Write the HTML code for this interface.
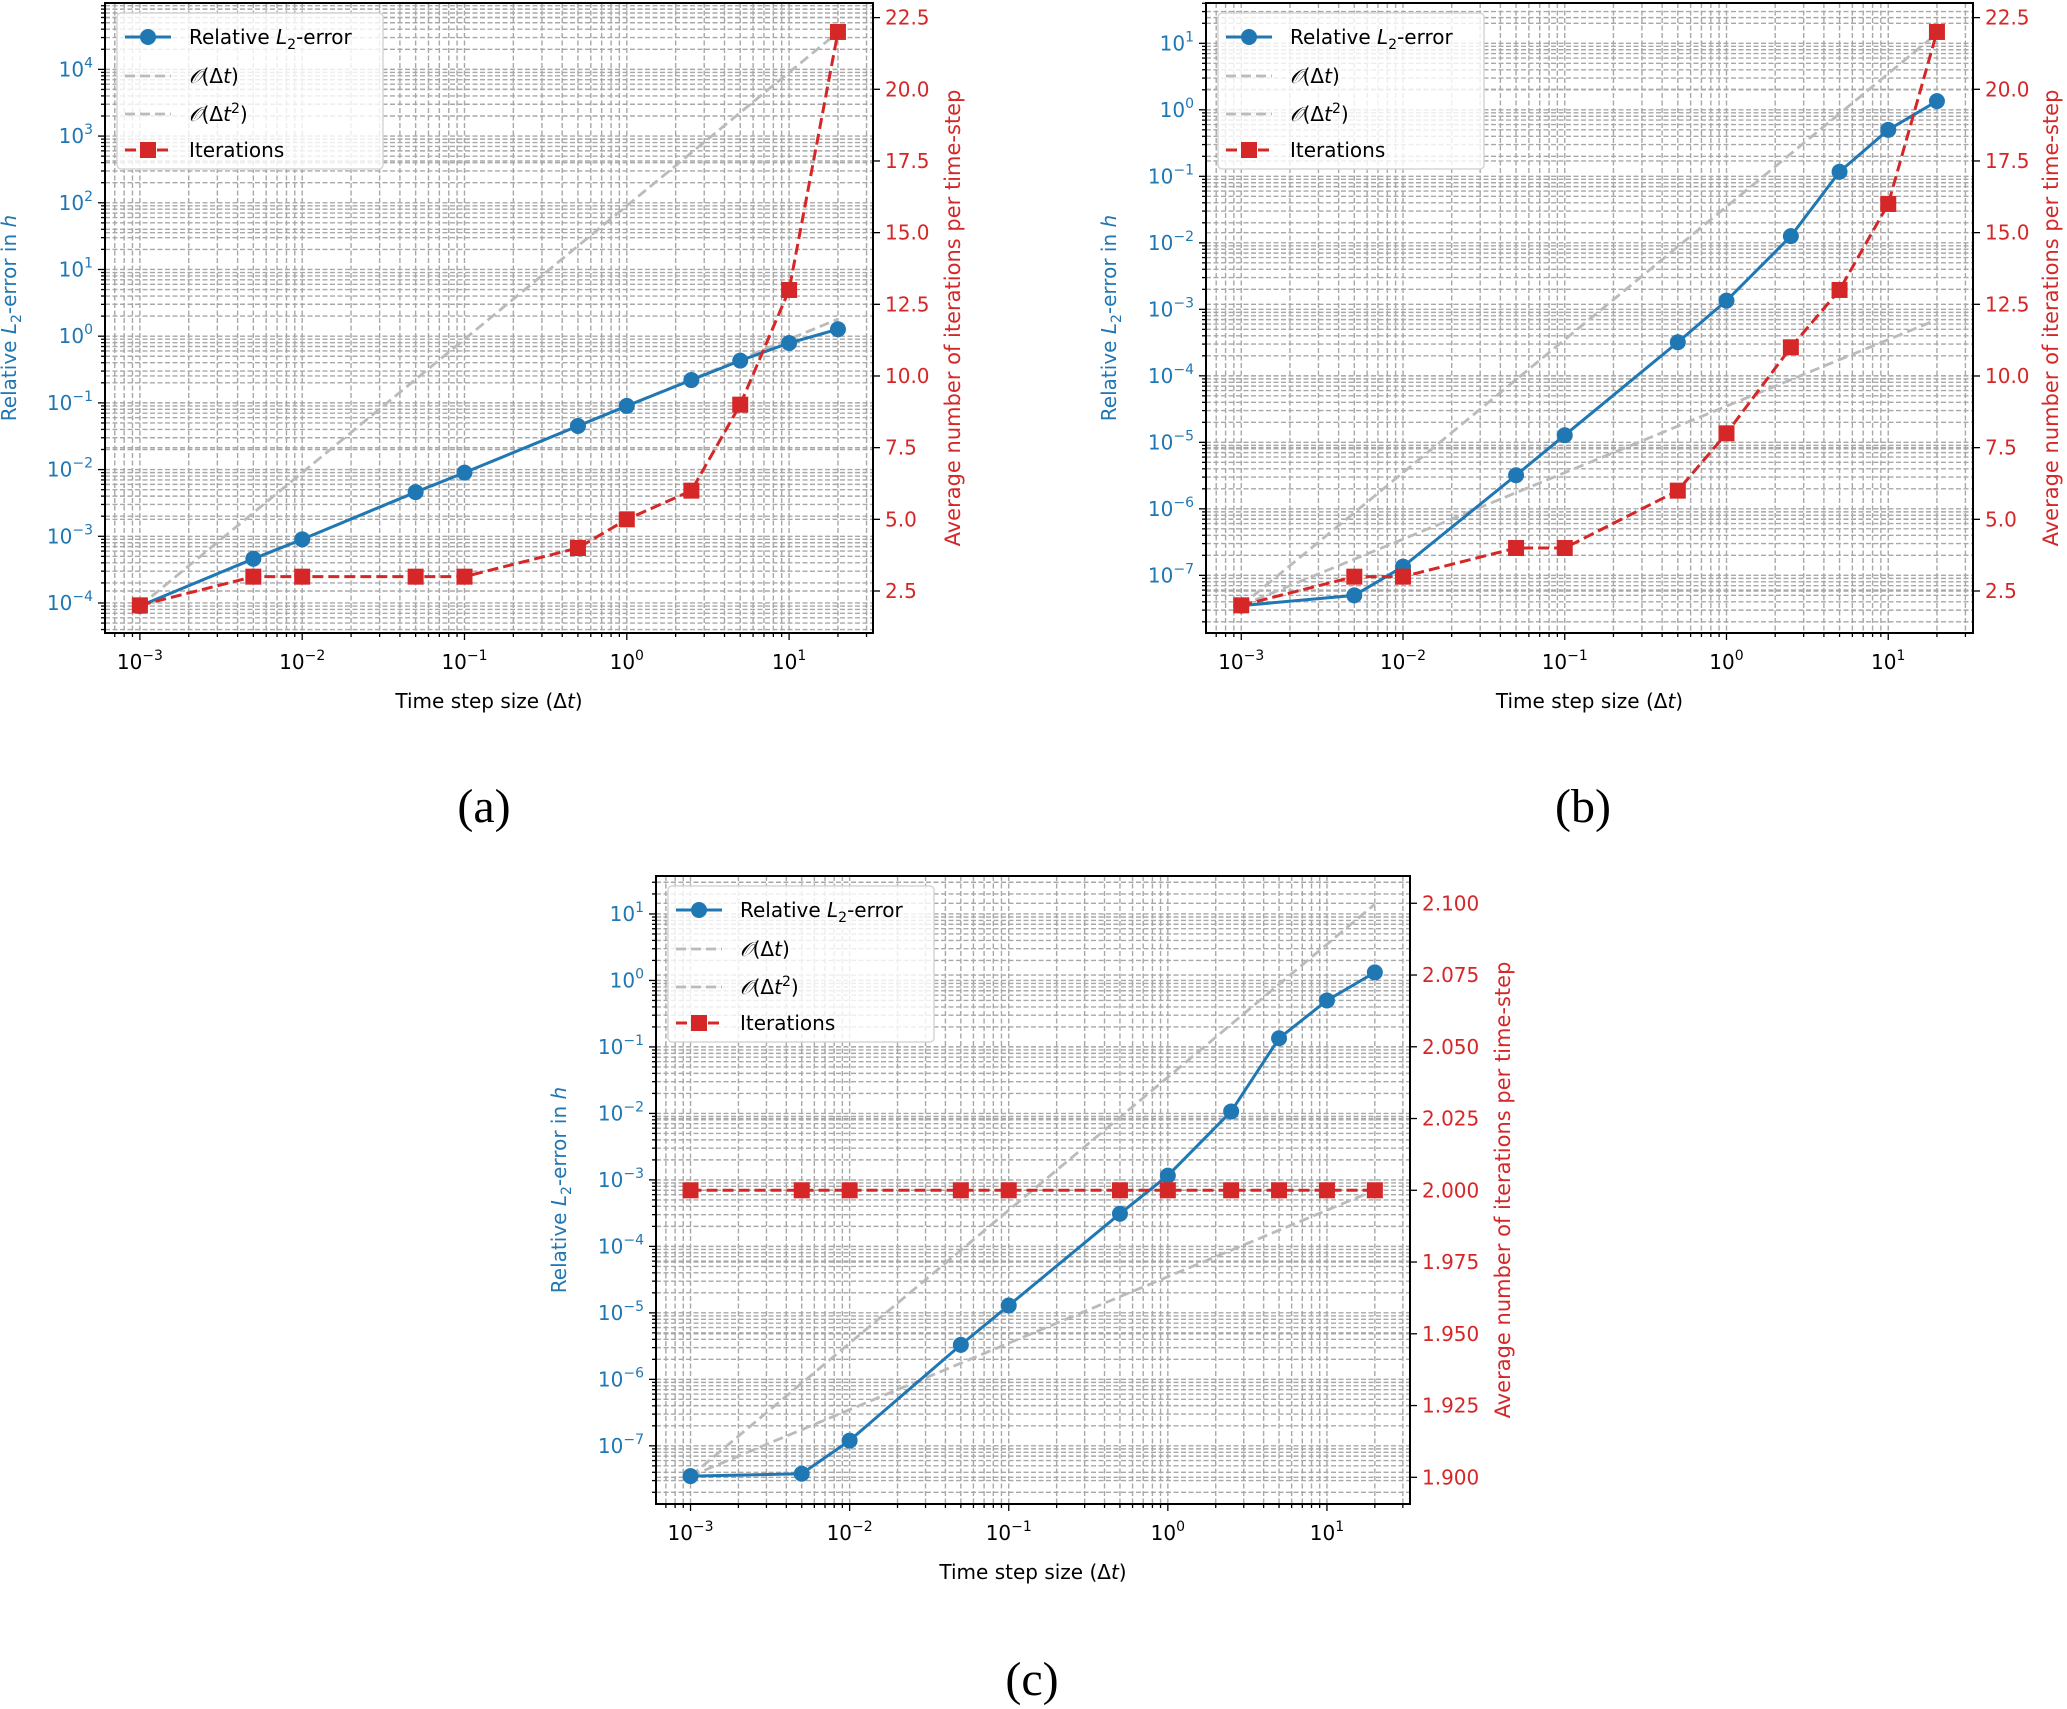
<!DOCTYPE html>
<html><head><meta charset="utf-8">
<style>
html,body{margin:0;padding:0;background:#fff;}
svg{display:block;font-family:"DejaVu Sans","Liberation Sans",sans-serif;}
</style></head>
<body>
<svg id="fig" width="2067" height="1709" viewBox="0 0 2067 1709" xmlns="http://www.w3.org/2000/svg"></svg>
<script>
const timeSteps = [0.001,0.005,0.01,0.05,0.1,0.5,1,2.5,5,10,20];
const errorA = [9e-5,4.6e-4,9e-4,4.6e-3,9e-3,0.045,0.09,0.22,0.43,0.79,1.27];
const iterA = [2,3,3,3,3,4,5,6,9,13,22];
const errorB = [3.5e-8,5e-8,1.35e-7,3.2e-6,1.28e-5,3.2e-4,1.35e-3,1.26e-2,0.117,0.5,1.35];
const iterB = [2,3,3,4,4,6,8,11,13,16,22];
const errorC = [3.5e-8,3.8e-8,1.2e-7,3.3e-6,1.29e-5,3.1e-4,1.16e-3,1.07e-2,0.135,0.5,1.32];
const iterC = [2,2,2,2,2,2,2,2,2,2,2];
const xTickExps = [-3,-2,-1,0,1];
const rightTicksAB = [2.5,5.0,7.5,10.0,12.5,15.0,17.5,20.0,22.5];
const rightTicksC = [1.900,1.925,1.950,1.975,2.000,2.025,2.050,2.075,2.100];
const leftTickExpsA = [-4,-3,-2,-1,0,1,2,3,4];
const leftTickExpsBC = [-7,-6,-5,-4,-3,-2,-1,0,1];

const NS="http://www.w3.org/2000/svg";
const svg=document.getElementById('fig');
const BLUE="#1f77b4", RED="#d62728";
function mk(tag,attrs,parent){const e=document.createElementNS(NS,tag);for(const k in attrs)e.setAttribute(k,attrs[k]);(parent||svg).appendChild(e);return e;}

function powLabel(g,x,y,exp,anchor,color){
  const t=mk('text',{x:x,y:y,'text-anchor':anchor,fill:color,'font-size':20},g);
  
  
  t.appendChild(document.createTextNode('10'));
  const s=mk('tspan',{dy:-9,'font-size':14},t);
  s.textContent=(exp<0?'\u2212':'')+Math.abs(exp);
  return t;
}

function panel(cfg){
  const g=mk('g',{});
  
  
  const L=cfg.L,R=cfg.R,T=cfg.T,B=cfg.B;
  const sx=v=>L+(Math.log10(v)-cfg.x0)/(cfg.x1-cfg.x0)*(R-L);
  const sy=v=>B-(Math.log10(v)-cfg.y0)/(cfg.y1-cfg.y0)*(B-T);
  const sr=v=>B-(v-cfg.r0)/(cfg.r1-cfg.r0)*(B-T);
  const clip='clip-'+cfg.name;
  const cp=mk('clipPath',{id:clip},g);mk('rect',{x:L,y:T,width:R-L,height:B-T},cp);
  const grid=mk('g',{'clip-path':'url(#'+clip+')',stroke:'#a8a8a8','stroke-width':1.4,'stroke-dasharray':'5,2.5'},g);
  
  
  for(let e=-4;e<=2;e++)for(let m=1;m<10;m++){const v=m*Math.pow(10,e);const X=sx(v);if(X<L||X>R)continue;mk('line',{x1:X,x2:X,y1:T,y2:B},grid);
    mk('line',{x1:X,x2:X,y1:B,y2:B+(m==1?7:4),stroke:'#000','stroke-width':1.3},g);}
  for(let e=-9;e<=6;e++)for(let m=1;m<10;m++){const v=m*Math.pow(10,e);const Y=sy(v);if(Y<T||Y>B)continue;mk('line',{x1:L,x2:R,y1:Y,y2:Y},grid);
    mk('line',{x1:L,x2:L-(m==1?7:4),y1:Y,y2:Y,stroke:'#000','stroke-width':1.3},g);}
  cfg.rTicks.forEach(v=>{const Y=sr(v);mk('line',{x1:L,x2:R,y1:Y,y2:Y},grid);mk('line',{x1:R,x2:R+7,y1:Y,y2:Y,stroke:'#000','stroke-width':1.3},g);
    const t=mk('text',{x:R+12,y:Y+7,fill:RED,'font-size':20},g);t.textContent=cfg.rFmt(v);
    
    });
  xTickExps.forEach(e=>powLabel(g,sx(Math.pow(10,e)),B+36,e,'middle','#000'));
  cfg.yExps.forEach(e=>powLabel(g,L-12,sy(Math.pow(10,e))+7,e,'end',BLUE));
  const c1=cfg.err[0]/timeSteps[0], c2=cfg.err[0]/(timeSteps[0]*timeSteps[0]);
  const dl=(c)=>timeSteps.map(t=>sx(t)+','+sy(c(t))).join(' ');
  const r1=mk('polyline',{points:dl(t=>c1*t),fill:'none',stroke:'#bbbbbb','stroke-width':2.8,'stroke-dasharray':'10,5','clip-path':'url(#'+clip+')'},g);
  
  
  const r2=mk('polyline',{points:dl(t=>c2*t*t),fill:'none',stroke:'#bbbbbb','stroke-width':2.8,'stroke-dasharray':'10,5','clip-path':'url(#'+clip+')'},g);
  
  
  const el=mk('polyline',{points:timeSteps.map((t,i)=>sx(t)+','+sy(cfg.err[i])).join(' '),fill:'none',stroke:BLUE,'stroke-width':3},g);
  
  
  timeSteps.forEach((t,i)=>{const c=mk('circle',{cx:sx(t),cy:sy(cfg.err[i]),r:8,fill:BLUE},g);
    
    });
  const il=mk('polyline',{points:timeSteps.map((t,i)=>sx(t)+','+sr(cfg.it[i])).join(' '),fill:'none',stroke:RED,'stroke-width':3,'stroke-dasharray':'11,5'},g);
  
  
  timeSteps.forEach((t,i)=>{const s=mk('rect',{x:sx(t)-8,y:sr(cfg.it[i])-8,width:16,height:16,fill:RED},g);
    
    });
  mk('rect',{x:L,y:T,width:R-L,height:B-T,fill:'none',stroke:'#000','stroke-width':2},g);
  const xt=mk('text',{x:(L+R)/2,y:B+75,'text-anchor':'middle','font-size':20,fill:'#000'},g);
  xt.textContent='Time step size (\u0394';
  const xti=mk('tspan',{'font-style':'italic'},xt);xti.textContent='t';
  const xte=mk('tspan',{},xt);xte.textContent=')';
  
  
  const yl=mk('text',{x:0,y:0,transform:'translate('+cfg.lx+','+(T+B)/2+') rotate(-90)','text-anchor':'middle','font-size':20,fill:BLUE},g);
  yl.appendChild(document.createTextNode('Relative '));
  let s=mk('tspan',{'font-style':'italic'},yl);s.textContent='L';
  s=mk('tspan',{dy:5,'font-size':14},yl);s.textContent='2';
  s=mk('tspan',{dy:-5},yl);s.textContent='-error in ';
  s=mk('tspan',{'font-style':'italic'},yl);s.textContent='h';
  
  
  const yr=mk('text',{x:0,y:0,transform:'translate('+cfg.rx+','+(T+B)/2+') rotate(-90)','text-anchor':'middle','font-size':21,fill:RED},g);
  yr.textContent='Average number of iterations per time-step';
  
  
  const lg=mk('g',{},g);
  
  
  const lx=L+12,ly=T+10;
  mk('rect',{x:lx,y:ly,width:266,height:156,rx:4,fill:'rgba(255,255,255,0.8)',stroke:'#d6d6d6','stroke-width':1.5},lg);
  const rows=[24,63,101,137];
  const sx0=lx+8,sx1=lx+54,tx=lx+72;
  mk('line',{x1:sx0,x2:sx1,y1:ly+rows[0],y2:ly+rows[0],stroke:BLUE,'stroke-width':3},lg);
  mk('circle',{cx:(sx0+sx1)/2,cy:ly+rows[0],r:8,fill:BLUE},lg);
  mk('line',{x1:sx0,x2:sx1,y1:ly+rows[1],y2:ly+rows[1],stroke:'#bbbbbb','stroke-width':2.8,'stroke-dasharray':'10,5'},lg);
  mk('line',{x1:sx0,x2:sx1,y1:ly+rows[2],y2:ly+rows[2],stroke:'#bbbbbb','stroke-width':2.8,'stroke-dasharray':'10,5'},lg);
  mk('line',{x1:sx0,x2:sx1,y1:ly+rows[3],y2:ly+rows[3],stroke:RED,'stroke-width':3,'stroke-dasharray':'11,5'},lg);
  mk('rect',{x:(sx0+sx1)/2-8,y:ly+rows[3]-8,width:16,height:16,fill:RED},lg);
  let t=mk('text',{x:tx,y:ly+rows[0]+7,'font-size':20,fill:'#000'},lg);
  t.appendChild(document.createTextNode('Relative '));
  s=mk('tspan',{'font-style':'italic'},t);s.textContent='L';
  s=mk('tspan',{dy:5,'font-size':14},t);s.textContent='2';
  s=mk('tspan',{dy:-5},t);s.textContent='-error';
  t=mk('text',{x:tx,y:ly+rows[1]+7,'font-size':20,fill:'#000'},lg);
  s=mk('tspan',{'font-style':'italic'},t);s.textContent='\u{1D4AA}';
  t.appendChild(document.createTextNode('(\u0394'));
  s=mk('tspan',{'font-style':'italic'},t);s.textContent='t';
  s=mk('tspan',{},t);s.textContent=')';
  t=mk('text',{x:tx,y:ly+rows[2]+7,'font-size':20,fill:'#000'},lg);
  s=mk('tspan',{'font-style':'italic'},t);s.textContent='\u{1D4AA}';
  t.appendChild(document.createTextNode('(\u0394'));
  s=mk('tspan',{'font-style':'italic'},t);s.textContent='t';
  s=mk('tspan',{dy:-8,'font-size':14},t);s.textContent='2';
  s=mk('tspan',{dy:8},t);s.textContent=')';
  t=mk('text',{x:tx,y:ly+rows[3]+7,'font-size':20,fill:'#000'},lg);t.textContent='Iterations';
  const cap=mk('text',{x:cfg.capX,y:cfg.capY,'text-anchor':'middle','font-size':48,fill:'#000','font-family':'"Liberation Serif","DejaVu Serif",serif'},g);
  cap.textContent=cfg.cap;
  
  
}

panel({name:'panel-a',L:105,R:873,T:3,B:633,x0:-3.215,x1:1.517,y0:-4.45,y1:4.995,r0:1.035,r1:23.01,
  err:errorA,it:iterA,rTicks:rightTicksAB,rFmt:v=>v.toFixed(1),yExps:leftTickExpsA,lx:16,rx:960,cap:'(a)',capX:484,capY:822});
panel({name:'panel-b',L:1206,R:1973,T:3,B:633,x0:-3.218,x1:1.524,y0:-7.867,y1:1.606,r0:1.035,r1:23.01,
  err:errorB,it:iterB,rTicks:rightTicksAB,rFmt:v=>v.toFixed(1),yExps:leftTickExpsBC,lx:1116,rx:2058,cap:'(b)',capX:1583,capY:822});
panel({name:'panel-c',L:656,R:1410,T:876,B:1504,x0:-3.217,x1:1.522,y0:-7.875,y1:1.571,r0:1.8907,r1:2.1095,
  err:errorC,it:iterC,rTicks:rightTicksC,rFmt:v=>v.toFixed(3),yExps:leftTickExpsBC,lx:566,rx:1510,cap:'(c)',capX:1032,capY:1695});
</script>
</body></html>
